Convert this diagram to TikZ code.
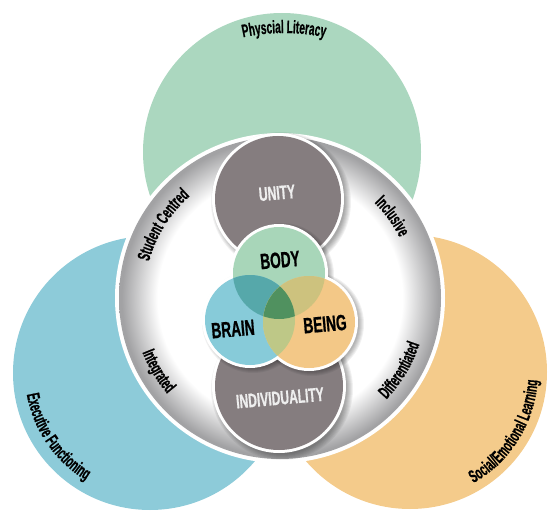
\documentclass[tikz,border=0pt]{standalone}
\usepackage{fontspec}
\newfontfamily\cf[FakeStretch=0.62,FakeBold=0.8]{Liberation Sans}
\newfontfamily\lf[FakeStretch=0.56,FakeBold=0.6]{Liberation Sans}
\usetikzlibrary{decorations.text}
\definecolor{bgGreen}{HTML}{ABD7BF}
\definecolor{bgBlue}{HTML}{8DCBD9}
\definecolor{bgOrange}{HTML}{F4CB8B}
\definecolor{darkG}{HTML}{857D7F}
\definecolor{cBody}{HTML}{A8D6B9}
\definecolor{cBrain}{HTML}{87CBD9}
\definecolor{cBeing}{HTML}{F3C887}
\definecolor{ovBB}{HTML}{56A8AA}
\definecolor{ovBO}{HTML}{CDC27E}
\definecolor{ovRO}{HTML}{BEC887}
\definecolor{ovAll}{HTML}{50915F}
\definecolor{ringGray}{HTML}{A2A2A4}
\definecolor{lightTxt}{HTML}{EEEEEE}
\pgfdeclareradialshading{ringshade}{\pgfpoint{0bp}{0bp}}{color(0bp)=(white); color(19bp)=(white); color(24.6bp)=(ringGray); color(25bp)=(ringGray); color(50bp)=(ringGray)}
\newcommand{\lblfont}{\lf\bfseries\fontsize{18}{18}\selectfont}
\tikzset{
  curvlbl/.style={decorate, decoration={text along path, text align=center, text={|\lblfont|#1}}},
  bigtxt/.style={font=\cf\bfseries\fontsize{22}{22}\selectfont, text=black, inner sep=0pt, rotate=5},
  graytxt/.style={font=\cf\bfseries\fontsize{19.5}{19.5}\selectfont, text=lightTxt, inner sep=0pt, rotate=5},
  softshadow/.style={fill=black, opacity=0.055}
}
\begin{document}
\begin{tikzpicture}[x=1pt,y=1pt]
\useasboundingbox (0,0) rectangle (560,-524);
\coordinate (G) at (282,-152);
\coordinate (B) at (150,-373);
\coordinate (O) at (410,-372);
\coordinate (R) at (280,-298);
\coordinate (U) at (278,-199);
\coordinate (I) at (279,-386);
\coordinate (Bo) at (279,-273);
\coordinate (Br) at (250,-320);
\coordinate (Be) at (309,-322);
% outer circles
\fill[bgGreen] (G) circle (139);
\fill[bgBlue] (B) circle (137);
\fill[bgOrange] (O) circle (137);
% ring
\fill[white] (R) circle (165);
\shade[shading=ringshade] (R) circle (161);
% unity / individuality
\foreach \k in {1,...,7} {
  \fill[softshadow] ([shift={(3,-3)}]U) circle ({63+\k});
  \fill[softshadow] ([shift={(3,-3)}]I) circle ({64+\k});
}
\fill[white] (U) circle (66);
\fill[white] (I) circle (67);
\fill[darkG] (U) circle (63);
\fill[darkG] (I) circle (64);
% flower
\foreach \k in {1,...,6} {
  \fill[softshadow] ([shift={(3,-2)}]Bo) circle ({46+\k});
  \fill[softshadow] ([shift={(3,-2)}]Br) circle ({45+\k});
  \fill[softshadow] ([shift={(3,-2)}]Be) circle ({46+\k});
}
\fill[white] (Bo) circle (49);
\fill[white] (Br) circle (48);
\fill[white] (Be) circle (49);
\fill[cBody] (Bo) circle (46);
\fill[cBrain] (Br) circle (45);
\fill[cBeing] (Be) circle (46);
\begin{scope}\clip (Bo) circle (46); \fill[ovBB] (Br) circle (45);\end{scope}
\begin{scope}\clip (Bo) circle (46); \fill[ovBO] (Be) circle (46);\end{scope}
\begin{scope}\clip (Br) circle (45); \fill[ovRO] (Be) circle (46);\end{scope}
\begin{scope}\clip (Bo) circle (46); \clip (Br) circle (45); \fill[ovAll] (Be) circle (46);\end{scope}
% texts
\node[bigtxt] (body) at (280,-260) {BODY};
\node[bigtxt] (brain) at (233,-329) {BRAIN};
\node[bigtxt] (being) at (325,-324) {BEING};
\node[graytxt] (unity) at (277,-193) {UNITY};
\node[graytxt] (indiv) at (280,-398) {INDIVIDUALITY};
% curved labels
\path[curvlbl=Physcial Literacy] (284,-229) ++(115:196) arc[start angle=115, end angle=65, radius=196];
\path[curvlbl=Student Centred] (R) ++(180:136) arc[start angle=180, end angle=116, radius=136];
\path[curvlbl=Inclusive] (R) ++(68:134) arc[start angle=68, end angle=4, radius=134];
\path[curvlbl=Integrated] (R) ++(181:148) arc[start angle=181, end angle=241, radius=148];
\path[curvlbl=Differentiated] (R) ++(-61:147) arc[start angle=-61, end angle=-1, radius=147];
\path[curvlbl=Executive Functioning] (B) ++(169.5:125) arc[start angle=169.5, end angle=259.5, radius=125];
\path[curvlbl=Social/Emotional Learning] (O) ++(-82:128) arc[start angle=-82, end angle=18, radius=128];
\end{tikzpicture}
\end{document}
